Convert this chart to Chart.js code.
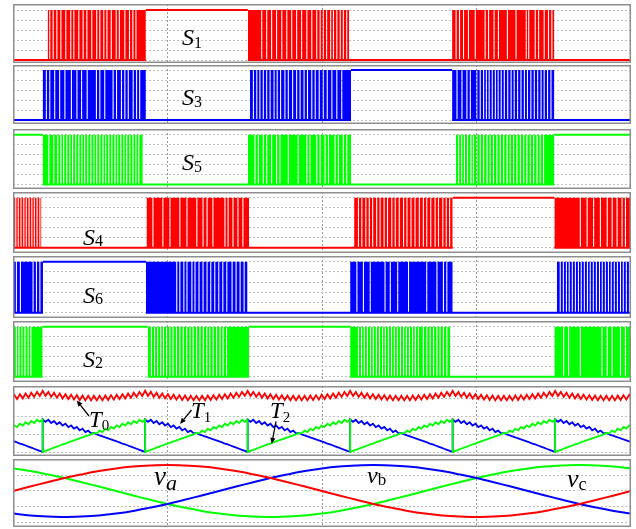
<!DOCTYPE html>
<html>
<head>
<meta charset="utf-8">
<script src="https://cdn.jsdelivr.net/npm/chart.js@4.4.1/dist/chart.umd.min.js"></script>
<style>
  html, body { margin: 0; padding: 0; background: #fff; overflow: hidden; }
  #wrap { position: relative; width: 636px; height: 529px; }
  #wrap canvas { position: absolute; left: 12px; }
  #notes { position: absolute; left: 0; top: 0; }
  #notes text { font-family: "Liberation Serif", "Times New Roman", serif; fill: #000; }
</style>
</head>
<body>
<div id="wrap">
<svg id="notes" width="636" height="529"></svg>
</div>
<script>
// ---- time axis (ms), one fundamental period ----
const timeGrid = [5, 10, 15];
const gateGrid = [0, 0.2, 0.4, 0.6, 0.8, 1];
const timeGridT = [0, 1, 2, 3];
const voltGrid = [0.6, 0, -0.6, -1.2];

// ---- gate signals: [from ms, to ms, state]  L = off, H = on, P = PWM switching ----
const S1 = [[0,1.12,'L'],[1.12,4.30,'P'],[4.30,7.60,'H'],[7.60,10.88,'P'],[10.88,14.21,'L'],[14.21,17.52,'P'],[17.52,20,'L']];
const S3 = [[0,0.96,'L'],[0.96,4.30,'P'],[4.30,7.67,'L'],[7.67,10.94,'P'],[10.94,14.21,'H'],[14.21,17.52,'P'],[17.52,20,'L']];
const S5 = [[0,0.96,'H'],[0.96,4.20,'P'],[4.20,7.60,'L'],[7.60,10.94,'P'],[10.94,14.33,'L'],[14.33,17.52,'P'],[17.52,20,'H']];
const S4 = [[0,0.92,'P'],[0.92,4.32,'L'],[4.32,7.64,'P'],[7.64,11.04,'L'],[11.04,14.23,'P'],[14.23,17.52,'H'],[17.52,20,'P']];
const S6 = [[0,0.97,'P'],[0.97,4.30,'H'],[4.30,7.59,'P'],[7.59,10.91,'L'],[10.91,14.23,'P'],[14.23,17.60,'L'],[17.60,20,'P']];
const S2 = [[0,0.96,'P'],[0.96,4.36,'H'],[4.36,7.64,'P'],[7.64,10.91,'H'],[10.91,14.15,'P'],[14.15,17.52,'L'],[17.52,20,'P']];

// off-notch centres (ms) inside each PWM block, block by block
const S1notches = [
  [1.19,1.30,1.42,1.55,1.71,1.87,1.97,2.13,2.27,2.39,2.55,2.71,2.81,2.94,3.04,3.18,3.34,3.44,3.62,3.77,3.88,3.98],
  [8.05,8.21,8.37,8.53,8.70,8.86,9.02,9.18,9.34,9.51,9.67,9.83,9.94,10.04,10.15,10.28,10.37,10.48,10.59,10.69,10.80],
  [14.34,14.45,14.58,14.74,14.96,15.28,15.39,15.57,15.71,16.00,16.28,16.61,16.69,16.90,17.01,17.19,17.33,17.44]
];
const S3notches = [
  [1.08,1.19,1.35,1.51,1.68,1.89,2.07,2.22,2.40,2.70,2.81,2.97,3.24,3.35,3.51,3.62,3.73,3.89,4.00,4.10],
  [7.78,7.89,7.99,8.10,8.21,8.32,8.45,8.55,8.66,8.80,8.91,9.05,9.18,9.29,9.42,9.53,9.67,9.78,9.91,10.04,10.17,10.32,10.48,10.64],
  [14.37,14.53,14.69,14.80,15.01,15.12,15.23,15.32,15.41,15.51,15.61,15.70,15.80,15.90,16.01,16.12,16.22,16.33,16.44,16.55,16.65,16.76,16.87,16.98,17.09,17.19,17.30,17.41]
];
const S5notches = [
  [1.16,1.32,1.45,1.55,1.64,1.74,1.84,1.93,2.03,2.13,2.23,2.32,2.42,2.52,2.62,2.71,2.81,2.91,3.00,3.10,3.20,3.30,3.39,3.49,3.59,3.68,3.78,3.88,3.98,4.07],
  [7.83,7.94,8.10,8.21,8.37,8.53,8.64,8.91,9.23,9.51,9.61,9.83,9.94,10.10,10.21,10.42,10.53,10.69,10.80],
  [14.42,14.52,14.61,14.71,14.82,14.90,15.01,15.12,15.23,15.34,15.44,15.55,15.66,15.77,15.88,15.99,16.09,16.20,16.31,16.42,16.53,16.63,16.74,16.85,16.96,17.06,17.17]
];
const S4notches = [
  [0.09,0.17,0.26,0.35,0.43,0.52,0.61,0.69,0.78,0.87],
  [4.53,4.85,5.08,5.40,5.63,5.95,6.15,6.28,6.47,6.86,6.96,7.12,7.28,7.44],
  [11.18,11.29,11.42,11.53,11.64,11.77,11.88,12.01,12.12,12.26,12.37,12.50,12.64,12.75,12.88,13.01,13.15,13.28,13.39,13.52,13.66,13.77,13.91,14.02,14.13],
  [18.36,18.58,18.79,19.01,19.23,19.39,19.55,19.71,19.82]
];
const S6notches = [
  [0.11,0.24,0.65,0.76,0.87],
  [5.30,5.40,5.53,5.63,5.79,5.89,6.02,6.15,6.28,6.40,6.53,6.66,6.79,6.92,7.09,7.22,7.35,7.48],
  [11.13,11.34,11.56,12.04,12.21,12.45,12.80,13.39,13.72,13.93,14.04],
  [17.71,17.81,17.91,18.00,18.10,18.20,18.30,18.39,18.49,18.59,18.68,18.78,18.88,18.98,19.07,19.17,19.27,19.36,19.46,19.56,19.66,19.75,19.85,19.95]
];
const S2notches = [
  [0.11,0.19,0.29,0.39,0.49,0.58],
  [4.48,4.58,4.68,4.78,4.87,4.97,5.08,5.18,5.29,5.40,5.51,5.62,5.73,5.83,5.94,6.05,6.16,6.27,6.37,6.48,6.59,6.70,6.80,6.91],
  [11.18,11.28,11.37,11.47,11.57,11.66,11.76,11.86,11.96,12.05,12.15,12.25,12.34,12.44,12.54,12.64,12.73,12.83,12.93,13.02,13.12,13.28,13.39,13.50,13.61,13.72,13.82,13.93,14.04],
  [17.82,17.98,18.36,19.06,19.23,19.39,19.66,19.82]
];
const notchWidth = 0.035; // ms

// ---- dwell times: sector edges (ms) and samples every half carrier period ----
const sectorEdges = [-2.357, 0.960, 4.277, 7.594, 10.911, 14.228, 17.545, 20.862];
const samplesPerSector = 36;
const T0sectors = [
  [3.40,3.11,3.34,3.06,3.29,3.01,3.25,2.97,3.21,2.94,3.18,2.91,3.16,2.89,3.14,2.87,3.13,2.87,3.13,2.87,3.13,2.87,3.14,2.89,3.16,2.91,3.18,2.94,3.21,2.97,3.25,3.01,3.29,3.06,3.34,3.11],
  [3.40,3.12,3.34,3.06,3.29,3.02,3.25,2.97,3.21,2.94,3.18,2.91,3.16,2.88,3.14,2.87,3.13,2.86,3.13,2.87,3.13,2.87,3.14,2.89,3.16,2.91,3.18,2.94,3.21,2.97,3.25,3.01,3.29,3.06,3.34,3.11],
  [3.41,3.11,3.35,3.06,3.29,3.01,3.25,2.98,3.21,2.94,3.18,2.91,3.16,2.89,3.14,2.87,3.13,2.87,3.12,2.87,3.13,2.87,3.14,2.89,3.16,2.91,3.18,2.94,3.21,2.97,3.25,3.01,3.29,3.06,3.34,3.12],
  [3.40,3.11,3.34,3.06,3.29,3.01,3.25,2.97,3.21,2.94,3.18,2.91,3.16,2.89,3.14,2.87,3.13,2.87,3.13,2.87,3.13,2.87,3.14,2.89,3.16,2.91,3.18,2.94,3.21,2.97,3.25,3.01,3.29,3.06,3.34,3.11],
  [3.40,3.11,3.34,3.06,3.29,3.01,3.25,2.97,3.21,2.94,3.18,2.92,3.16,2.89,3.14,2.87,3.13,2.87,3.13,2.87,3.13,2.87,3.14,2.89,3.16,2.91,3.18,2.94,3.21,2.97,3.25,3.01,3.29,3.06,3.34,3.11],
  [3.40,3.11,3.34,3.06,3.29,3.01,3.25,2.97,3.21,2.94,3.18,2.91,3.16,2.89,3.14,2.87,3.13,2.87,3.13,2.87,3.13,2.87,3.14,2.89,3.16,2.91,3.18,2.94,3.21,2.97,3.25,3.01,3.29,3.06,3.34,3.11],
  [3.40,3.11,3.34,3.06,3.29,3.01,3.25,2.97,3.21,2.94,3.18,2.91,3.16,2.89,3.14,2.87,3.13,2.87,3.13,2.87,3.13,2.87,3.14,2.89,3.16,2.91,3.18,2.94,3.21,2.97,3.25,3.01,3.29,3.06,3.34,3.11]
];
const T1sectors = [
  [1.80,1.68,1.79,1.61,1.72,1.54,1.65,1.47,1.57,1.38,1.48,1.30,1.39,1.20,1.30,1.11,1.19,1.04,1.06,0.98,0.92,0.87,0.81,0.76,0.70,0.65,0.59,0.53,0.47,0.42,0.36,0.30,0.24,0.18,0.12,0.06,0],
  [1.80,1.68,1.79,1.61,1.72,1.54,1.65,1.47,1.57,1.38,1.48,1.30,1.39,1.20,1.30,1.11,1.19,1.04,1.06,0.98,0.92,0.87,0.81,0.76,0.70,0.65,0.59,0.53,0.47,0.42,0.36,0.30,0.24,0.18,0.12,0.06,0],
  [1.80,1.68,1.79,1.61,1.72,1.54,1.65,1.47,1.57,1.38,1.48,1.30,1.39,1.20,1.30,1.11,1.19,1.04,1.06,0.98,0.92,0.87,0.81,0.76,0.70,0.65,0.59,0.53,0.47,0.42,0.36,0.30,0.24,0.18,0.12,0.06,0],
  [1.80,1.68,1.79,1.61,1.72,1.54,1.65,1.47,1.57,1.38,1.48,1.30,1.39,1.20,1.30,1.11,1.19,1.04,1.06,0.98,0.92,0.87,0.81,0.76,0.70,0.65,0.59,0.53,0.47,0.42,0.36,0.30,0.24,0.18,0.12,0.06,0],
  [1.80,1.68,1.79,1.61,1.72,1.54,1.65,1.47,1.57,1.38,1.48,1.30,1.39,1.20,1.30,1.11,1.19,1.04,1.06,0.98,0.92,0.87,0.81,0.76,0.70,0.65,0.59,0.53,0.47,0.42,0.36,0.30,0.24,0.18,0.12,0.06,0],
  [1.80,1.68,1.79,1.61,1.72,1.54,1.65,1.47,1.57,1.38,1.48,1.30,1.39,1.20,1.30,1.11,1.19,1.04,1.06,0.98,0.92,0.87,0.81,0.76,0.70,0.65,0.59,0.53,0.47,0.42,0.36,0.30,0.24,0.18,0.12,0.06,0],
  [1.80,1.68,1.79,1.61,1.72,1.54,1.65,1.47,1.57,1.38,1.48,1.30,1.39,1.20,1.30,1.11,1.19,1.04,1.06,0.98,0.92,0.87,0.81,0.76,0.70,0.65,0.59,0.53,0.47,0.42,0.36,0.30,0.24,0.18,0.12,0.06,0]
];
const T2sectors = [
  [0,0.06,0.12,0.18,0.24,0.30,0.36,0.42,0.47,0.53,0.59,0.65,0.70,0.76,0.81,0.87,0.92,0.98,1.06,1.04,1.19,1.11,1.30,1.20,1.39,1.30,1.48,1.38,1.57,1.47,1.65,1.54,1.72,1.61,1.79,1.68,1.80],
  [0,0.06,0.12,0.18,0.24,0.30,0.36,0.42,0.47,0.53,0.59,0.65,0.70,0.76,0.81,0.87,0.92,0.98,1.06,1.04,1.19,1.11,1.30,1.20,1.39,1.30,1.48,1.38,1.57,1.47,1.65,1.54,1.72,1.61,1.79,1.68,1.80],
  [0,0.06,0.12,0.18,0.24,0.30,0.36,0.42,0.47,0.53,0.59,0.65,0.70,0.76,0.81,0.87,0.92,0.98,1.06,1.04,1.19,1.11,1.30,1.20,1.39,1.30,1.48,1.38,1.57,1.47,1.65,1.54,1.72,1.61,1.79,1.68,1.80],
  [0,0.06,0.12,0.18,0.24,0.30,0.36,0.42,0.47,0.53,0.59,0.65,0.70,0.76,0.81,0.87,0.92,0.98,1.06,1.04,1.19,1.11,1.30,1.20,1.39,1.30,1.48,1.38,1.57,1.47,1.65,1.54,1.72,1.61,1.79,1.68,1.80],
  [0,0.06,0.12,0.18,0.24,0.30,0.36,0.42,0.47,0.53,0.59,0.65,0.70,0.76,0.81,0.87,0.92,0.98,1.06,1.04,1.19,1.11,1.30,1.20,1.39,1.30,1.48,1.38,1.57,1.47,1.65,1.54,1.72,1.61,1.79,1.68,1.80],
  [0,0.06,0.12,0.18,0.24,0.30,0.36,0.42,0.47,0.53,0.59,0.65,0.70,0.76,0.81,0.87,0.92,0.98,1.06,1.04,1.19,1.11,1.30,1.20,1.39,1.30,1.48,1.38,1.57,1.47,1.65,1.54,1.72,1.61,1.79,1.68,1.80],
  [0,0.06,0.12,0.18,0.24,0.30,0.36,0.42,0.47,0.53,0.59,0.65,0.70,0.76,0.81,0.87,0.92,0.98,1.06,1.04,1.19,1.11,1.30,1.20,1.39,1.30,1.48,1.38,1.57,1.47,1.65,1.54,1.72,1.61,1.79,1.68,1.80]
];

// ---- phase voltages (p.u.) sampled every 10 electrical degrees ----
const periodMs = 20;
const phaseAngle = [0,10,20,30,40,50,60,70,80,90,100,110,120,130,140,150,160,170,180,190,200,210,220,230,240,250,260,270,280,290,300,310,320,330,340,350,360];
const va = [0,0.17,0.34,0.5,0.64,0.77,0.87,0.94,0.98,1,0.98,0.94,0.87,0.77,0.64,0.5,0.34,0.17,0,-0.17,-0.34,-0.5,-0.64,-0.77,-0.87,-0.94,-0.98,-1,-0.98,-0.94,-0.87,-0.77,-0.64,-0.5,-0.34,-0.17,0];
const vb = [-0.87,-0.94,-0.98,-1,-0.98,-0.94,-0.87,-0.77,-0.64,-0.5,-0.34,-0.17,0,0.17,0.34,0.5,0.64,0.77,0.87,0.94,0.98,1,0.98,0.94,0.87,0.77,0.64,0.5,0.34,0.17,0,-0.17,-0.34,-0.5,-0.64,-0.77,-0.87];
const vc = [0.87,0.77,0.64,0.5,0.34,0.17,0,-0.17,-0.34,-0.5,-0.64,-0.77,-0.87,-0.94,-0.98,-1,-0.98,-0.94,-0.87,-0.77,-0.64,-0.5,-0.34,-0.17,0,0.17,0.34,0.5,0.64,0.77,0.87,0.94,0.98,1,0.98,0.94,0.87];

// ---- styling ----
const RED = '#ff0000', BLUE = '#0000ff', GREEN = '#00ff00';

// ---- dataset builders ----
function outlinePoints(states) {
  const pts = [];
  let prev = null;
  for (const [a, b, s] of states) {
    const lvl = s === 'H' ? 1 : 0;
    if (prev !== null && lvl !== prev) pts.push({ x: a, y: null });
    pts.push({ x: a, y: lvl }, { x: b, y: lvl });
    prev = lvl;
  }
  return pts;
}

function gateDatasets(states, notches, color) {
  const sets = [];
  let n = 0;
  const h = notchWidth / 2;
  for (const [a, b, s] of states) {
    if (s !== 'P') continue;
    const pts = [{ x: a, y: 0 }, { x: a, y: 1 }];
    for (const c of notches[n++]) {
      pts.push({ x: c - h, y: 1 }, { x: c - h, y: 0 }, { x: c + h, y: 0 }, { x: c + h, y: 1 });
    }
    pts.push({ x: b, y: 1 }, { x: b, y: 0 });
    sets.push({ data: pts, borderColor: 'rgba(0,0,0,0)', borderWidth: 0, backgroundColor: color, fill: 'origin' });
  }
  sets.push({ data: outlinePoints(states), borderColor: color, borderWidth: 2, fill: false });
  return sets;
}

function sectorPoints(sectors) {
  const pts = [];
  sectors.forEach((vals, i) => {
    const a = sectorEdges[i];
    const step = (sectorEdges[i + 1] - a) / samplesPerSector;
    vals.forEach((v, k) => pts.push({ x: a + k * step, y: v }));
  });
  return pts;
}

function phasePoints(vals) {
  return vals.map((v, i) => ({ x: phaseAngle[i] * periodMs / 360, y: v }));
}

// ---- panel frame ----
const framePlugin = {
  id: 'panelFrame',
  afterDraw(chart) {
    const { ctx, chartArea: a } = chart;
    ctx.save();
    ctx.strokeStyle = '#8e8e8e';
    ctx.lineWidth = 1.5;
    ctx.strokeRect(a.left + 0.75, a.top + 0.75, a.right - a.left - 1.5, a.bottom - a.top - 1.5);
    ctx.restore();
  }
};

function makePanel(box, datasets, yTicks, lineTension) {
  const cv = document.createElement('canvas');
  cv.width = 621;
  cv.height = box.height;
  cv.style.top = box.top + 'px';
  cv.style.width = '621px';
  cv.style.height = box.height + 'px';
  document.getElementById('wrap').insertBefore(cv, document.getElementById('notes'));
  return new Chart(cv, {
    type: 'line',
    data: { datasets },
    options: {
      responsive: false,
      animation: false,
      events: [],
      layout: { padding: { left: 1, right: 2, top: 0, bottom: 0 } },
      plugins: { legend: { display: false }, tooltip: { enabled: false } },
      elements: { point: { radius: 0 }, line: { tension: lineTension || 0 } },
      scales: {
        x: {
          type: 'linear', min: 0, max: 20,
          ticks: { display: false },
          grid: { color: '#9c9c9c', lineWidth: 1, drawTicks: false, borderDash: [2, 2] },
          border: { display: false, dash: [2, 2] },
          afterBuildTicks: s => { s.ticks = timeGrid.map(v => ({ value: v })); }
        },
        y: {
          type: 'linear', min: box.yMin, max: box.yMax,
          ticks: { display: false },
          grid: { color: '#c2c2c2', lineWidth: 1, drawTicks: false, borderDash: [2, 2] },
          border: { display: false, dash: [2, 2] },
          afterBuildTicks: s => { s.ticks = yTicks.map(v => ({ value: v })); }
        }
      }
    },
    plugins: [framePlugin]
  });
}

// panel placement and vertical ranges
const boxes = [
  { top: 4,   height: 59, yMin: -0.06,  yMax: 1.12 },
  { top: 65,  height: 59, yMin: -0.08,  yMax: 1.10 },
  { top: 129, height: 60, yMin: -0.09,  yMax: 1.114 },
  { top: 192, height: 61, yMin: -0.106, yMax: 1.114 },
  { top: 256, height: 62, yMin: -0.104, yMax: 1.112 },
  { top: 321, height: 61, yMin: -0.106, yMax: 1.114 },
  { top: 386, height: 70, yMin: -0.222, yMax: 3.667 },
  { top: 459, height: 68, yMin: -1.385, yMax: 1.231 }
];

makePanel(boxes[0], gateDatasets(S1, S1notches, RED), gateGrid);
makePanel(boxes[1], gateDatasets(S3, S3notches, BLUE), gateGrid);
makePanel(boxes[2], gateDatasets(S5, S5notches, GREEN), gateGrid);
makePanel(boxes[3], gateDatasets(S4, S4notches, RED), gateGrid);
makePanel(boxes[4], gateDatasets(S6, S6notches, BLUE), gateGrid);
makePanel(boxes[5], gateDatasets(S2, S2notches, GREEN), gateGrid);

makePanel(boxes[6], [
  { data: sectorPoints(T2sectors), borderColor: GREEN, borderWidth: 1.8, fill: false },
  { data: sectorPoints(T1sectors), borderColor: BLUE, borderWidth: 1.8, fill: false },
  { data: sectorPoints(T0sectors), borderColor: RED, borderWidth: 1.8, fill: false }
], timeGridT);

makePanel(boxes[7], [
  { data: phasePoints(va), borderColor: RED, borderWidth: 2, fill: false },
  { data: phasePoints(vb), borderColor: BLUE, borderWidth: 2, fill: false },
  { data: phasePoints(vc), borderColor: GREEN, borderWidth: 2, fill: false }
], voltGrid, 0.35);

// ---- signal names and pointer arrows ----
const NS = 'http://www.w3.org/2000/svg';
const svg = document.getElementById('notes');
function label(x, y, main, sub, mainSize, subSize, subItalic, dy) {
  const t = document.createElementNS(NS, 'text');
  t.setAttribute('x', x); t.setAttribute('y', y);
  const a = document.createElementNS(NS, 'tspan');
  a.setAttribute('font-size', mainSize); a.setAttribute('font-style', 'italic');
  a.textContent = main;
  const b = document.createElementNS(NS, 'tspan');
  b.setAttribute('font-size', subSize); b.setAttribute('dy', dy);
  if (subItalic) b.setAttribute('font-style', 'italic');
  b.textContent = sub;
  t.appendChild(a); t.appendChild(b);
  svg.appendChild(t);
}
function arrow(x1, y1, x2, y2) {
  const dx = x2 - x1, dy = y2 - y1, L = Math.hypot(dx, dy);
  const ux = dx / L, uy = dy / L, hl = 6, hw = 2.6;
  const bx = x2 - ux * hl, by = y2 - uy * hl;
  const ln = document.createElementNS(NS, 'line');
  ln.setAttribute('x1', x1); ln.setAttribute('y1', y1);
  ln.setAttribute('x2', bx); ln.setAttribute('y2', by);
  ln.setAttribute('stroke', '#000'); ln.setAttribute('stroke-width', 1.3);
  svg.appendChild(ln);
  const p = document.createElementNS(NS, 'polygon');
  p.setAttribute('points', `${x2},${y2} ${bx - uy * hw},${by + ux * hw} ${bx + uy * hw},${by - ux * hw}`);
  p.setAttribute('fill', '#000');
  svg.appendChild(p);
}

label(182, 45, 'S', '1', 24, 16, false, 3);
label(182, 105, 'S', '3', 24, 16, false, 2);
label(182, 170, 'S', '5', 24, 16, false, 2);
label(83, 245, 'S', '4', 24, 16, false, 1);
label(83, 303, 'S', '6', 24, 16, false, 1);
label(83, 367, 'S', '2', 24, 16, false, 1);
label(89, 427, 'T', '0', 23, 15, false, 3);
label(191, 418, 'T', '1', 23, 15, false, 4);
label(270, 418, 'T', '2', 23, 15, false, 4);
label(154, 485, 'v', 'a', 27, 22, true, 5);
label(367, 483, 'v', 'b', 24, 17, false, 2);
label(567, 487, 'v', 'c', 26, 18, false, 3);

arrow(89, 416, 76.7, 400.5);
arrow(191.5, 410, 180, 424);
arrow(276, 421.5, 271.7, 444);
</script>
</body>
</html>
